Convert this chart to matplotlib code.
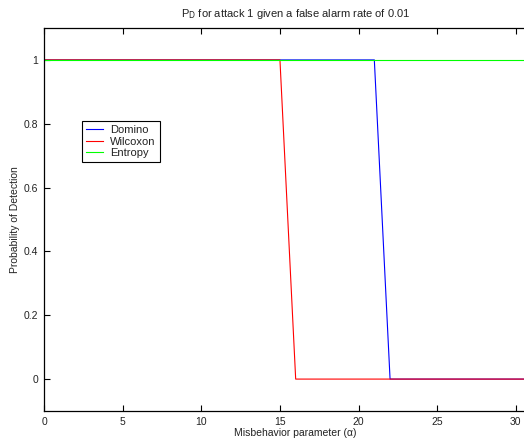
import numpy as np
import matplotlib.pyplot as plt

plt.rcParams['font.family'] = ['Liberation Sans', 'DejaVu Sans']

alpha = np.arange(0, 36)
domino = [1 if a <= 21 else 0 for a in alpha]
wilcoxon = [1 if a <= 15 else 0 for a in alpha]
entropy = [1 for a in alpha]

fig = plt.figure(figsize=(5.24, 4.46), dpi=100)
# axes run past the right edge of the figure, as in the cropped original
ax = fig.add_axes([44 / 524, 35 / 446, 32 * 15.73 / 524, 383 / 446])

ax.plot(alpha, domino, color='#0000ff', lw=0.8, label='Domino')
ax.plot(alpha, wilcoxon, color='#ff0000', lw=0.8, label='Wilcoxon')
ax.plot(alpha, entropy, color='#00ff00', lw=0.8, label='Entropy')

ax.set_xlim(0, 32)
ax.set_ylim(-0.1, 1.1)
ax.set_xticks([0, 5, 10, 15, 20, 25, 30])
ax.set_yticks([0, 0.2, 0.4, 0.6, 0.8, 1])
ax.set_yticklabels(['0', '0.2', '0.4', '0.6', '0.8', '1'])
ax.tick_params(direction='in', top=True, right=True, length=4, width=0.8,
               labelsize=7.5, pad=4, labelcolor='#222222')
for s in ax.spines.values():
    s.set_linewidth(0.9)

ax.set_xlabel('Misbehavior parameter (\u03b1)', fontsize=7.5, labelpad=1,
              color='#222222')
ax.set_ylabel('Probability of Detection', fontsize=7.5, color='#222222')
ax.yaxis.set_label_coords(-0.048, 0.5)
ax.set_title(r'P$_{\mathrm{D}}$ for attack 1 given a false alarm rate of 0.01',
             fontsize=8, pad=8, color='#222222')

leg = ax.legend(loc='upper left', bbox_to_anchor=(0.0755, 0.757), fontsize=8,
                fancybox=False, framealpha=1, edgecolor='black',
                handlelength=1.5, handletextpad=0.7, borderpad=0.35,
                labelspacing=0.15, borderaxespad=0)
leg.get_frame().set_linewidth(0.8)
for t in leg.get_texts():
    t.set_color('#222222')

fig.savefig('out.png', dpi=100)
